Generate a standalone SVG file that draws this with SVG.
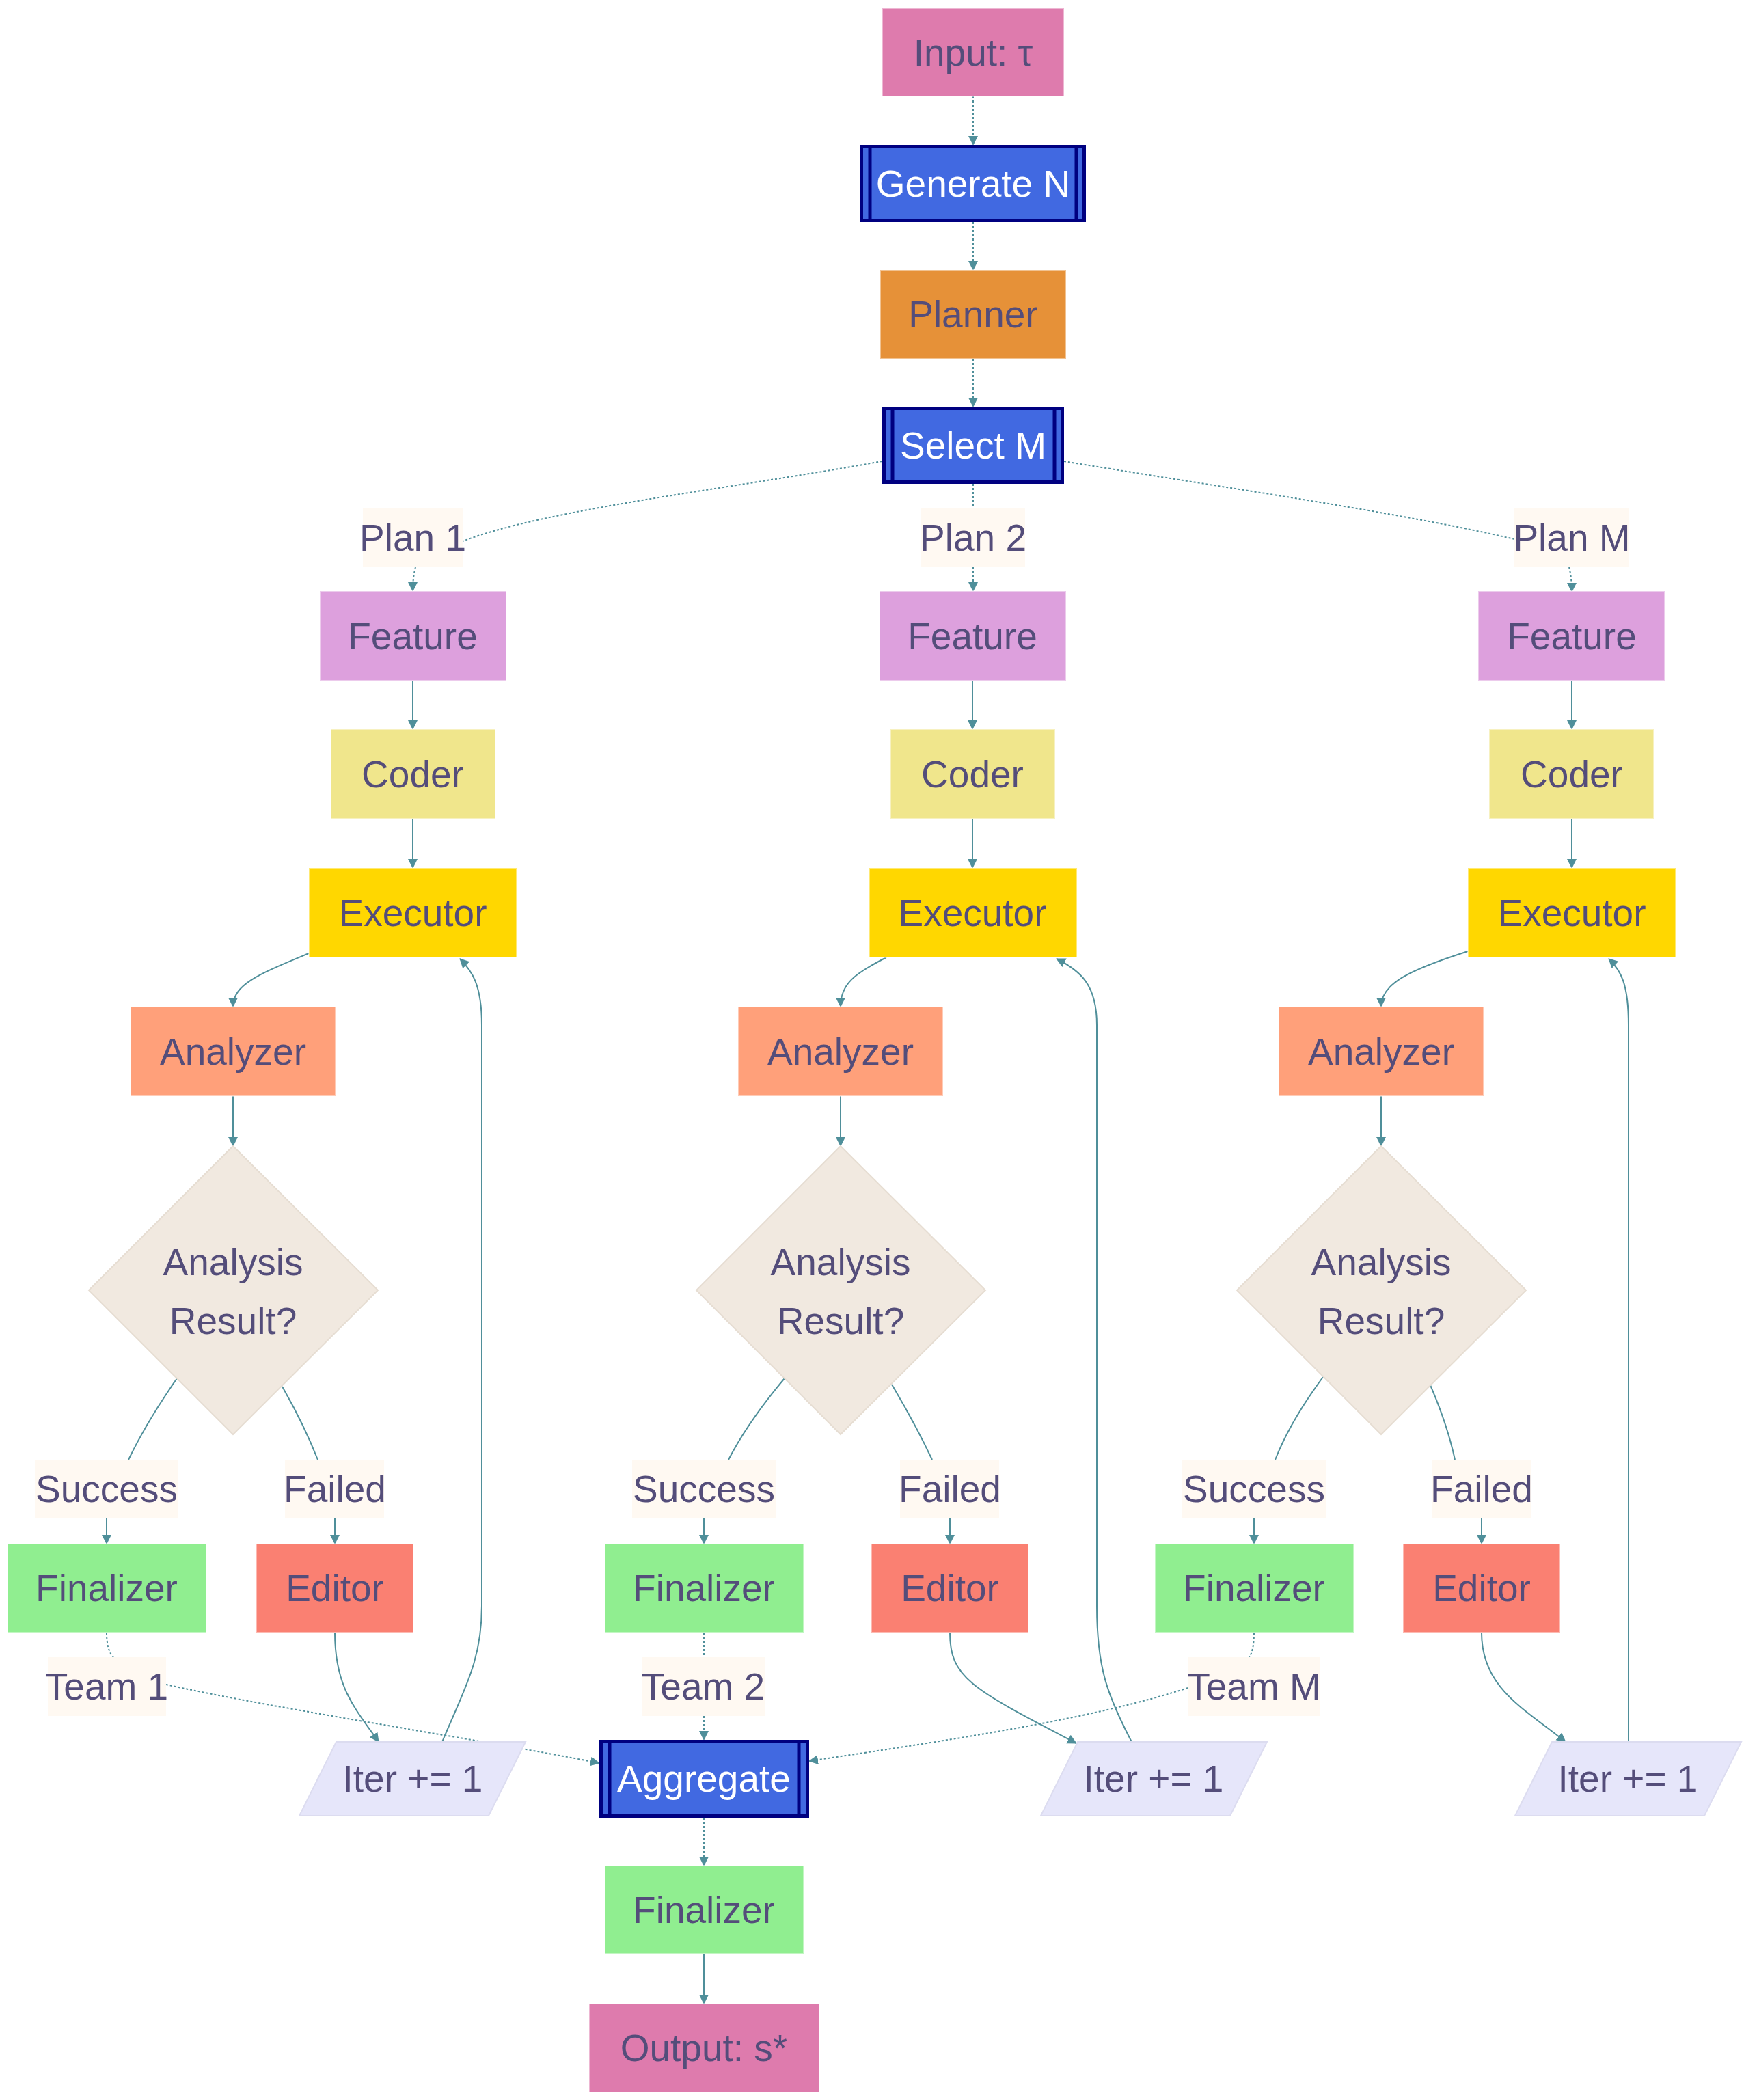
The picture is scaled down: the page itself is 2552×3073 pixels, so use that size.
<svg xmlns="http://www.w3.org/2000/svg" width="2552" height="3073" viewBox="0 0 2552 3073">
<defs>
<marker id="ah" markerUnits="userSpaceOnUse" markerWidth="16" markerHeight="16" refX="13" refY="7" orient="auto">
<path d="M0,0 L14,7 L0,14 z" fill="#4f8f9a"/>
</marker>
<style>
text{font-family:"Liberation Sans",Arial,sans-serif;font-size:55px;fill:#544d7a;text-anchor:middle}
.w{fill:#ffffff}
.n{stroke:rgba(255,255,255,0.45);stroke-width:2}
.sub{fill:#4169e1;stroke:#000080;stroke-width:5}
.subl{stroke:#000080;stroke-width:5}
.lbl{fill:#fff9f2}
.e{fill:none;stroke:#4f8f9a;stroke-width:2}
.d{fill:none;stroke:#4f8f9a;stroke-width:2;stroke-dasharray:3 3}
.io{fill:#de7bad}
.pl{fill:#e69138}
.fe{fill:#dda0dd}
.co{fill:#f0e68c}
.ex{fill:#ffd700}
.an{fill:#ffa07a}
.di{fill:#f1e9e0;stroke:#e6ddd2;stroke-width:2}
.fi{fill:#90ee90}
.ed{fill:#fa8072}
.it{fill:#e6e6fa;stroke:#dcdcf0;stroke-width:2}
</style>
</defs>
<rect width="2552" height="3073" fill="#ffffff"/>

<g id="connectors">
<path class="d" d="M1424,141 L1424,212" marker-end="url(#ah)"/>
<path class="d" d="M1424,325 L1424,395" marker-end="url(#ah)"/>
<path class="d" d="M1424,525 L1424,595" marker-end="url(#ah)"/>
<path class="d" d="M1291,675 C1050,718 800,745 677,792"/>
<path class="d" d="M608,830 Q604,845 604,865" marker-end="url(#ah)"/>
<path class="d" d="M1424,708 L1424,743"/>
<path class="d" d="M1424,830 L1424,865" marker-end="url(#ah)"/>
<path class="d" d="M1557,675 C1800,715 2050,750 2216,789"/>
<path class="d" d="M2296,830 Q2300,845 2300,866" marker-end="url(#ah)"/>

<path class="e" d="M604,996 L604,1067" marker-end="url(#ah)"/>
<path class="e" d="M604,1198 L604,1270" marker-end="url(#ah)"/>
<path class="e" d="M1423,996 L1423,1067" marker-end="url(#ah)"/>
<path class="e" d="M1423,1198 L1423,1270" marker-end="url(#ah)"/>
<path class="e" d="M2300,996 L2300,1067" marker-end="url(#ah)"/>
<path class="e" d="M2300,1198 L2300,1270" marker-end="url(#ah)"/>

<path class="e" d="M452,1395 C380,1425 341,1440 341,1473" marker-end="url(#ah)"/>
<path class="e" d="M1297,1401 C1250,1425 1230,1440 1230,1473" marker-end="url(#ah)"/>
<path class="e" d="M2148,1392 C2060,1420 2021,1440 2021,1473" marker-end="url(#ah)"/>

<path class="e" d="M341,1604 L341,1677" marker-end="url(#ah)"/>
<path class="e" d="M1230,1604 L1230,1677" marker-end="url(#ah)"/>
<path class="e" d="M2021,1604 L2021,1677" marker-end="url(#ah)"/>

<path class="e" d="M259,2017 Q215,2080 188,2136"/>
<path class="e" d="M413,2029 Q445,2085 465,2136"/>
<path class="e" d="M1148,2017 Q1095,2080 1066,2136"/>
<path class="e" d="M1305,2026 Q1340,2085 1364,2136"/>
<path class="e" d="M1936,2015 Q1888,2080 1866,2136"/>
<path class="e" d="M2093,2027 Q2118,2085 2129,2136"/>

<path class="e" d="M156,2222 L156,2259" marker-end="url(#ah)"/>
<path class="e" d="M490,2222 L490,2259" marker-end="url(#ah)"/>
<path class="e" d="M1030,2222 L1030,2259" marker-end="url(#ah)"/>
<path class="e" d="M1390,2222 L1390,2259" marker-end="url(#ah)"/>
<path class="e" d="M1835,2222 L1835,2259" marker-end="url(#ah)"/>
<path class="e" d="M2168,2222 L2168,2259" marker-end="url(#ah)"/>

<path class="d" d="M156,2389 Q156,2415 166,2425"/>
<path class="d" d="M243,2465 C400,2500 700,2545 877,2580" marker-end="url(#ah)"/>
<path class="d" d="M1030,2389 L1030,2425"/>
<path class="d" d="M1030,2511 L1030,2546" marker-end="url(#ah)"/>
<path class="d" d="M1835,2389 Q1835,2415 1828,2425"/>
<path class="d" d="M1738,2470 C1600,2515 1400,2545 1184,2577" marker-end="url(#ah)"/>
<path class="d" d="M1030,2660 L1030,2730" marker-end="url(#ah)"/>
<path class="e" d="M1030,2859 L1030,2932" marker-end="url(#ah)"/>

<path class="e" d="M490,2389 C490,2470 520,2500 554,2549" marker-end="url(#ah)"/>
<path class="e" d="M1390,2389 C1390,2455 1420,2470 1575,2551" marker-end="url(#ah)"/>
<path class="e" d="M2168,2389 C2168,2470 2230,2500 2291,2549" marker-end="url(#ah)"/>

<path class="e" d="M647,2549 C680,2470 705,2430 705,2350 L705,1500 C705,1440 690,1420 673,1403" marker-end="url(#ah)"/>
<path class="e" d="M1656,2549 C1620,2480 1605,2440 1605,2350 L1605,1500 C1605,1440 1580,1420 1546,1403" marker-end="url(#ah)"/>
<path class="e" d="M2383,2549 L2383,1500 C2383,1440 2372,1420 2354,1403" marker-end="url(#ah)"/>
</g>

<g id="input"><rect class="io n" x="1291" y="12" width="266" height="129"/><text x="1424" y="96">Input: τ</text></g>
<g id="generateN"><rect class="sub" x="1260.5" y="214.5" width="326" height="108"/><line class="subl" x1="1273" y1="214.5" x2="1273" y2="322.5"/><line class="subl" x1="1575" y1="214.5" x2="1575" y2="322.5"/><text class="w" x="1424" y="288">Generate N</text></g>
<g id="planner"><rect class="pl n" x="1288" y="395" width="272" height="130"/><text x="1424" y="479">Planner</text></g>
<g id="selectM"><rect class="sub" x="1293.5" y="597.5" width="261" height="108"/><line class="subl" x1="1306" y1="597.5" x2="1306" y2="705.5"/><line class="subl" x1="1543" y1="597.5" x2="1543" y2="705.5"/><text class="w" x="1424" y="671">Select M</text></g>

<g id="plan1"><rect class="lbl" x="531" y="743" width="146" height="87"/><text x="604" y="806">Plan 1</text></g>
<g id="plan2"><rect class="lbl" x="1348" y="743" width="152" height="87"/><text x="1424" y="806">Plan 2</text></g>
<g id="planM"><rect class="lbl" x="2216" y="743" width="168" height="87"/><text x="2300" y="806">Plan M</text></g>

<g id="feature1"><rect class="fe n" x="468" y="865" width="273" height="131"/><text x="604" y="950">Feature</text></g>
<g id="feature2"><rect class="fe n" x="1287" y="865" width="273" height="131"/><text x="1423" y="950">Feature</text></g>
<g id="featureM"><rect class="fe n" x="2163" y="865" width="273" height="131"/><text x="2300" y="950">Feature</text></g>

<g id="coder1"><rect class="co n" x="484" y="1067" width="241" height="131"/><text x="604" y="1152">Coder</text></g>
<g id="coder2"><rect class="co n" x="1303" y="1067" width="241" height="131"/><text x="1423" y="1152">Coder</text></g>
<g id="coderM"><rect class="co n" x="2179" y="1067" width="241" height="131"/><text x="2300" y="1152">Coder</text></g>

<g id="executor1"><rect class="ex n" x="452" y="1270" width="304" height="131"/><text x="604" y="1355">Executor</text></g>
<g id="executor2"><rect class="ex n" x="1272" y="1270" width="304" height="131"/><text x="1423" y="1355">Executor</text></g>
<g id="executorM"><rect class="ex n" x="2148" y="1270" width="304" height="131"/><text x="2300" y="1355">Executor</text></g>

<g id="analyzer1"><rect class="an n" x="191" y="1473" width="300" height="131"/><text x="341" y="1558">Analyzer</text></g>
<g id="analyzer2"><rect class="an n" x="1080" y="1473" width="300" height="131"/><text x="1230" y="1558">Analyzer</text></g>
<g id="analyzerM"><rect class="an n" x="1871" y="1473" width="300" height="131"/><text x="2021" y="1558">Analyzer</text></g>

<g id="decision1"><polygon class="di" points="341,1677 553,1888 341,2099 130,1888"/><text x="341" y="1866">Analysis</text><text x="341" y="1952">Result?</text></g>
<g id="decision2"><polygon class="di" points="1230,1677 1442,1888 1230,2099 1019,1888"/><text x="1230" y="1866">Analysis</text><text x="1230" y="1952">Result?</text></g>
<g id="decisionM"><polygon class="di" points="2021,1677 2233,1888 2021,2099 1810,1888"/><text x="2021" y="1866">Analysis</text><text x="2021" y="1952">Result?</text></g>

<g id="success1"><rect class="lbl" x="51" y="2136" width="210" height="86"/><text x="156" y="2198">Success</text></g>
<g id="failed1"><rect class="lbl" x="417" y="2136" width="145" height="86"/><text x="490" y="2198">Failed</text></g>
<g id="success2"><rect class="lbl" x="925" y="2136" width="210" height="86"/><text x="1030" y="2198">Success</text></g>
<g id="failed2"><rect class="lbl" x="1317" y="2136" width="145" height="86"/><text x="1390" y="2198">Failed</text></g>
<g id="successM"><rect class="lbl" x="1730" y="2136" width="210" height="86"/><text x="1835" y="2198">Success</text></g>
<g id="failedM"><rect class="lbl" x="2095" y="2136" width="145" height="86"/><text x="2168" y="2198">Failed</text></g>

<g id="finalizer1"><rect class="fi n" x="11" y="2259" width="291" height="130"/><text x="156" y="2343">Finalizer</text></g>
<g id="editor1"><rect class="ed n" x="375" y="2259" width="230" height="130"/><text x="490" y="2343">Editor</text></g>
<g id="finalizer2"><rect class="fi n" x="885" y="2259" width="291" height="130"/><text x="1030" y="2343">Finalizer</text></g>
<g id="editor2"><rect class="ed n" x="1275" y="2259" width="230" height="130"/><text x="1390" y="2343">Editor</text></g>
<g id="finalizerM"><rect class="fi n" x="1690" y="2259" width="291" height="130"/><text x="1835" y="2343">Finalizer</text></g>
<g id="editorM"><rect class="ed n" x="2053" y="2259" width="230" height="130"/><text x="2168" y="2343">Editor</text></g>

<g id="team1"><rect class="lbl" x="70" y="2425" width="173" height="86"/><text x="156" y="2487">Team 1</text></g>
<g id="team2"><rect class="lbl" x="939" y="2425" width="180" height="86"/><text x="1029" y="2487">Team 2</text></g>
<g id="teamM"><rect class="lbl" x="1738" y="2425" width="194" height="86"/><text x="1835" y="2487">Team M</text></g>

<g id="iter1"><polygon class="it" points="492,2549 769,2549 715,2657 438,2657"/><text x="604" y="2622">Iter += 1</text></g>
<g id="iter2"><polygon class="it" points="1577,2549 1854,2549 1800,2657 1523,2657"/><text x="1688" y="2622">Iter += 1</text></g>
<g id="iterM"><polygon class="it" points="2271,2549 2548,2549 2494,2657 2217,2657"/><text x="2382" y="2622">Iter += 1</text></g>

<g id="aggregate"><rect class="sub" x="879.5" y="2548.5" width="302" height="109"/><line class="subl" x1="892" y1="2548.5" x2="892" y2="2657.5"/><line class="subl" x1="1169" y1="2548.5" x2="1169" y2="2657.5"/><text class="w" x="1030" y="2622">Aggregate</text></g>
<g id="finalizer"><rect class="fi n" x="885" y="2730" width="291" height="129"/><text x="1030" y="2814">Finalizer</text></g>
<g id="output"><rect class="io n" x="862" y="2932" width="337" height="130"/><text x="1030" y="3016">Output: s*</text></g>
</svg>
